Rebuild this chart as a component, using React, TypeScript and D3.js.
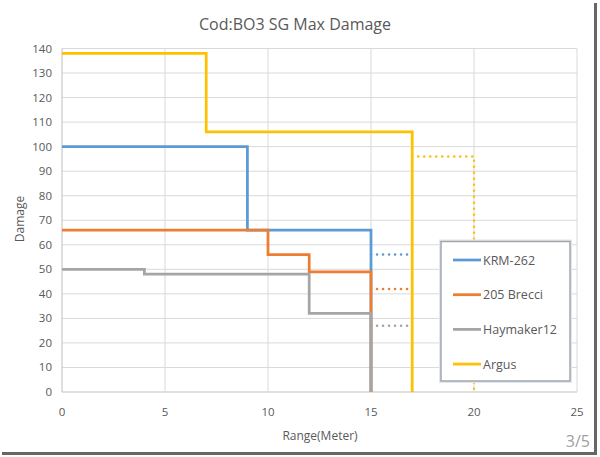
import * as React from 'react';
import * as d3 from 'd3';

// step points: [range, damage]
const krm262: [number, number][] = [[0, 100], [9, 100], [9, 66], [15, 66], [15, 0]];
const brecci205: [number, number][] = [[0, 66], [10, 66], [10, 56], [12, 56], [12, 49], [15, 49], [15, 0]];
const haymaker12: [number, number][] = [[0, 50], [4, 50], [4, 48], [12, 48], [12, 32], [15, 32], [15, 0]];
const argus: [number, number][] = [[0, 138], [7, 138], [7, 106], [17, 106], [17, 0]];

// dotted extensions
const krm262Dot: [number, number][] = [[15, 56], [17, 56]];
const brecci205Dot: [number, number][] = [[15, 42], [17, 42]];
const haymaker12Dot: [number, number][] = [[15, 27], [17, 27]];
const argusDot: [number, number][] = [[17, 96], [20, 96], [20, 0]];

const seriesNames = ['KRM-262', '205 Brecci', 'Haymaker12', 'Argus'];
const seriesColors = ['#5b9bd5', '#ed7d31', '#a5a5a5', '#ffc000'];

const xTicks = [0, 5, 10, 15, 20, 25];
const yTicks = [0, 10, 20, 30, 40, 50, 60, 70, 80, 90, 100, 110, 120, 130, 140];

const FONT = '"Open Sans", sans-serif';

export default function App() {
  const ref = React.useRef<SVGSVGElement>(null);

  React.useEffect(() => {
    const width = 600;
    const height = 457;
    const svg = d3.select(ref.current).attr('width', width).attr('height', height);
    svg.selectAll('*').remove();

    const x = d3.scaleLinear().domain([0, 25]).range([62, 577]);
    const y = d3.scaleLinear().domain([0, 140]).range([392, 48.5]);

    svg.append('rect').attr('width', width).attr('height', height).attr('fill', '#fff');

    // frame shadow of the screenshot
    svg.append('rect').attr('x', 594).attr('y', 3).attr('width', 3).attr('height', 452).attr('fill', '#666');
    svg.append('rect').attr('x', 2).attr('y', 452).attr('width', 595).attr('height', 3).attr('fill', '#666');

    svg.append('text')
      .attr('x', 295).attr('y', 30)
      .attr('text-anchor', 'middle')
      .attr('font-family', FONT).attr('font-size', 16)
      .attr('fill', '#595959')
      .text('Cod:BO3 SG Max Damage');

    // grid
    const grid = svg.append('g');
    grid.selectAll('.hg').data(yTicks).enter().append('line')
      .attr('x1', x(0)).attr('x2', x(25))
      .attr('y1', d => y(d)).attr('y2', d => y(d))
      .attr('stroke', d => (d === 0 ? '#bfbfbf' : '#d9d9d9')).attr('stroke-width', 1);
    grid.selectAll('.vg').data(xTicks).enter().append('line')
      .attr('x1', d => x(d)).attr('x2', d => x(d))
      .attr('y1', y(0)).attr('y2', y(140))
      .attr('stroke', d => (d === 0 ? '#bfbfbf' : '#d9d9d9')).attr('stroke-width', 1);

    // tick labels
    svg.selectAll('.yl').data(yTicks).enter().append('text')
      .attr('x', 52).attr('y', d => y(d) + 4)
      .attr('text-anchor', 'end')
      .attr('font-family', FONT).attr('font-size', 11.5)
      .attr('fill', '#595959')
      .text(d => d);
    svg.selectAll('.xl').data(xTicks).enter().append('text')
      .attr('x', d => x(d)).attr('y', 416)
      .attr('text-anchor', 'middle')
      .attr('font-family', FONT).attr('font-size', 11.5)
      .attr('fill', '#595959')
      .text(d => d);

    svg.append('text')
      .attr('transform', 'translate(24,219) rotate(-90)')
      .attr('text-anchor', 'middle')
      .attr('font-family', FONT).attr('font-size', 12)
      .attr('fill', '#595959')
      .text('Damage');
    svg.append('text')
      .attr('x', 320).attr('y', 440)
      .attr('text-anchor', 'middle')
      .attr('font-family', FONT).attr('font-size', 12)
      .attr('fill', '#595959')
      .text('Range(Meter)');

    const line = d3.line<[number, number]>().x(d => x(d[0])).y(d => y(d[1]));

    const dotted = [krm262Dot, brecci205Dot, haymaker12Dot, argusDot];
    dotted.forEach((pts, i) => {
      svg.append('path')
        .attr('d', line(pts))
        .attr('fill', 'none')
        .attr('stroke', seriesColors[i])
        .attr('stroke-width', 2.5)
        .attr('stroke-linecap', 'round')
        .attr('stroke-dasharray', '0.1 5.9');
    });

    const solid = [krm262, brecci205, haymaker12, argus];
    solid.forEach((pts, i) => {
      svg.append('path')
        .attr('d', line(pts))
        .attr('fill', 'none')
        .attr('stroke', seriesColors[i])
        .attr('stroke-width', 2.75);
    });

    // legend
    const lg = svg.append('g');
    lg.append('rect')
      .attr('x', 441).attr('y', 241.5).attr('width', 129).attr('height', 139.5)
      .attr('fill', 'none').attr('stroke', '#dce8f5').attr('stroke-width', 4);
    lg.append('rect')
      .attr('x', 441).attr('y', 241.5).attr('width', 129).attr('height', 139.5)
      .attr('fill', '#fff').attr('stroke', '#a6a6a6').attr('stroke-width', 1.5);
    seriesNames.forEach((name, i) => {
      const ly = 260 + i * 34.7;
      lg.append('line')
        .attr('x1', 453).attr('x2', 481).attr('y1', ly).attr('y2', ly)
        .attr('stroke', seriesColors[i]).attr('stroke-width', 2.75);
      lg.append('text')
        .attr('x', 483).attr('y', ly + 4.5)
        .attr('font-family', FONT).attr('font-size', 12.5)
        .attr('fill', '#595959')
        .text(name);
    });

    svg.append('text')
      .attr('x', 590).attr('y', 447)
      .attr('text-anchor', 'end')
      .attr('font-family', FONT).attr('font-size', 16)
      .attr('fill', '#a0a0a0')
      .text('3/5');
  }, []);

  return (
    <svg ref={ref} style={{ display: 'block', position: 'absolute', left: 0, top: 0 }}></svg>
  );
}
